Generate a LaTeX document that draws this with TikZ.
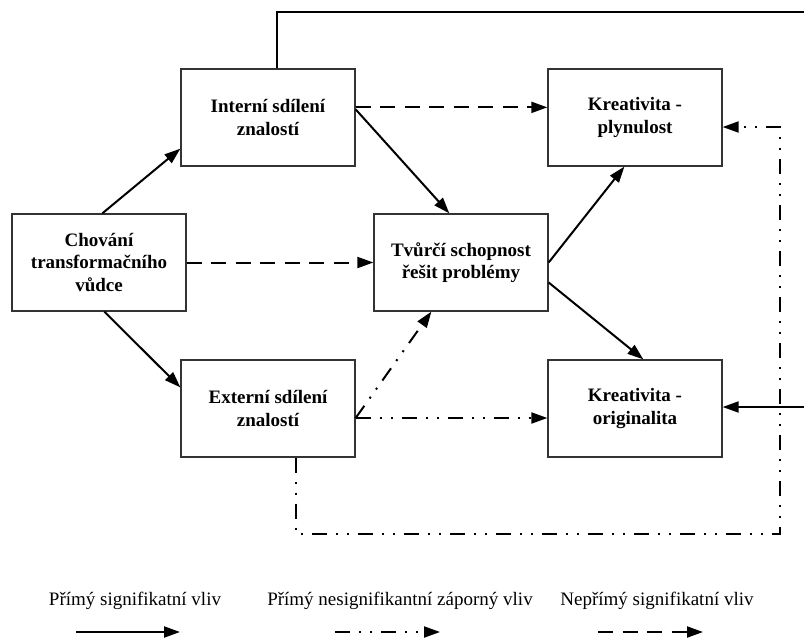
\documentclass[tikz,border=0pt]{standalone}
\usepackage{fontspec}
\setmainfont{Liberation Serif}
\usetikzlibrary{arrows.meta}

\tikzset{
  factor/.style={draw=black!80, line width=1.3pt, rectangle,
    minimum width=174pt, minimum height=97pt, inner sep=0pt,
    align=center, font=\bfseries\fontsize{19}{22.5}\selectfont},
  legendtext/.style={anchor=base, inner sep=0pt, font=\fontsize{19}{22}\selectfont},
  link/.style={line width=2pt, -{Triangle[length=16pt,width=11pt]}},
  signif/.style={link},
  nonsig/.style={link, dash pattern=on 15pt off 9pt on 2pt off 9pt on 2pt off 9pt},
  indirect/.style={link, dash pattern=on 15pt off 9.5pt},
  feedline/.style={line width=2pt}
}

\begin{document}
\begin{tikzpicture}[x=1pt, y=-1pt]
  \useasboundingbox (0,0) rectangle (804,638);
  \clip (0,0) rectangle (804,638);

  % factors of the model
  \node[factor] (chov) at (99,262.5)   {Chování\\transformačního\\vůdce};
  \node[factor] (int)  at (268,117.5)  {Interní sdílení\\znalostí};
  \node[factor] (ext)  at (268,408.5)  {Externí sdílení\\znalostí};
  \node[factor] (tvu)  at (461,262.5)  {Tvůrčí schopnost\\řešit problémy};
  \node[factor] (ply)  at (635,117.5)  {Kreativita -\\plynulost};
  \node[factor] (ori)  at (635,408.5)  {Kreativita -\\originalita};

  % corners of the two long feedback paths
  \coordinate (topcorner) at (830,11.5);
  \coordinate (botcorner) at (780,534);

  % direct significant effects
  \draw[signif] ([xshift=91pt]chov.north west) -- ([yshift=18pt]int.south west);
  \draw[signif] ([xshift=93pt]chov.south west) -- ([yshift=-28pt]ext.north west);
  \draw[signif] ([yshift=-41pt]int.north east) -- ([xshift=76pt]tvu.north west);
  \draw[signif] (tvu.east) -- ([xshift=77pt]ply.south west);
  \draw[signif] ([yshift=-20pt]tvu.east) -- ([xshift=96pt]ori.north west);
  \draw[signif] ([xshift=97pt]int.north west) |- (topcorner) |- ([yshift=1.5pt]ori.east);

  % indirect significant effects
  \draw[indirect] (chov.east) -- (tvu.west);
  \draw[indirect] ([yshift=-39pt]int.north east) -- ([yshift=-39pt]ply.north west);

  % direct non-significant negative effects
  \draw[nonsig] ([yshift=-9.5pt]ext.east) -- ([xshift=58pt]tvu.south west);
  \draw[nonsig] ([yshift=-9.5pt]ext.east) -- ([yshift=-9.5pt]ori.west);
  \draw[nonsig] ([xshift=116pt]ext.south west) |- (botcorner) |- ([yshift=-9.5pt]ply.east);

  % legend
  \node[legendtext] (lgA) at (135,605) {Přímý signifikatní vliv};
  \node[legendtext] (lgB) at (400,605) {Přímý nesignifikantní záporný vliv};
  \node[legendtext] (lgC) at (657,605) {Nepřímý signifikatní vliv};

  \coordinate (lgAs) at (76,632);  \coordinate (lgAe) at (180,632);
  \coordinate (lgBs) at (335,632); \coordinate (lgBe) at (440,632);
  \coordinate (lgCs) at (598,632); \coordinate (lgCe) at (703,632);

  \draw[signif]   (lgAs) -- (lgAe);
  \draw[nonsig]   (lgBs) -- (lgBe);
  \draw[indirect] (lgCs) -- (lgCe);
\end{tikzpicture}
\end{document}
